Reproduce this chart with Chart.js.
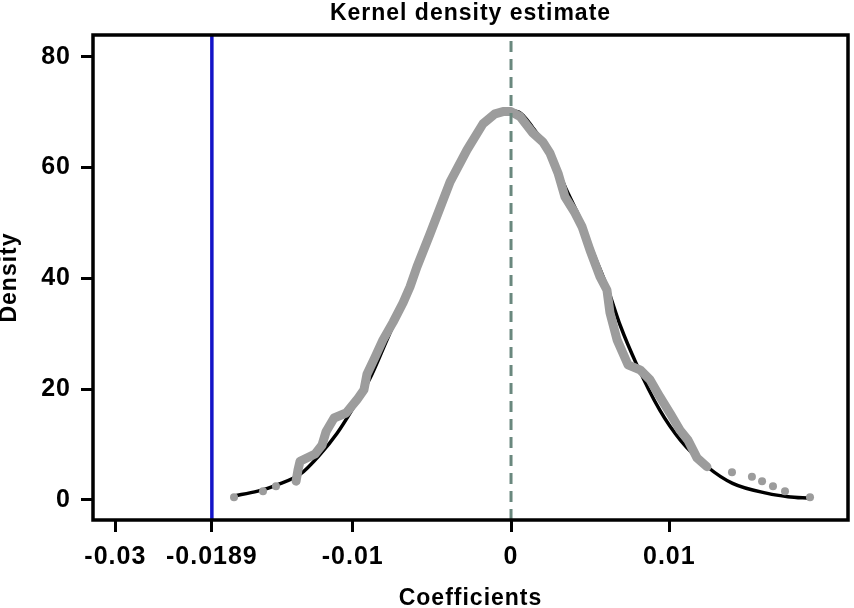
<!DOCTYPE html>
<html>
<head>
<meta charset="utf-8">
<title>Kernel density estimate</title>
<script src="https://cdn.jsdelivr.net/npm/chart.js@4.4.1/dist/chart.umd.min.js"></script>
<style>
  html, body { margin: 0; padding: 0; background: #fff; }
  #wrap { width: 854px; height: 608px; }
</style>
</head>
<body>
<div id="wrap"><canvas id="kdChart" width="854" height="608"></canvas></div>
<script>
// Normal density (black line)
const normalX = [-0.01756, -0.0160, -0.0148, -0.0133, -0.0121, -0.0110, -0.0100, -0.0089, -0.0079, -0.0070,
  -0.0062, -0.0053, -0.0039, -0.0024, -0.0013, -0.0003, 0.0005, 0.0014, 0.0025, 0.0035,
  0.0044, 0.0052, 0.0061, 0.0069, 0.0079, 0.0094, 0.0107, 0.0124, 0.0140, 0.0162, 0.0175, 0.01889];
const normalY = [0.7, 1.6, 2.7, 4.7, 8.1, 12.0, 16.5, 22.0, 28.5, 34.5,
  40.3, 47.5, 57.6, 65.5, 69.2, 70.3, 70.0, 67.1, 62.4, 56.0,
  50.5, 44.6, 38.2, 31.5, 24.7, 16.2, 10.8, 6.0, 3.0, 1.2, 0.6, 0.3];

// Kernel density estimate (grey dots), dense part
const kdensX = [-0.01358, -0.01346, -0.01333, -0.01238, -0.01194, -0.01169, -0.01118, -0.01042, -0.00973, -0.00929,
  -0.00910, -0.00859, -0.00809, -0.00745, -0.00682, -0.00638, -0.00594, -0.00512, -0.00385, -0.00278,
  -0.00177, -0.00101, -0.00051, 0.0, 0.00057, 0.00139, 0.00202, 0.00246, 0.00297, 0.00341,
  0.00404, 0.00449, 0.00499, 0.00562, 0.00606, 0.00625, 0.00670, 0.00739, 0.00815, 0.00878,
  0.00941, 0.01004, 0.01068, 0.01118, 0.01175, 0.01238];
const kdensY = [3.4, 5.4, 7.0, 8.3, 9.9, 12.3, 14.8, 15.7, 18.1, 19.9,
  22.7, 25.8, 28.9, 32.1, 35.6, 38.5, 42.1, 48.0, 57.4, 63.2,
  67.9, 69.7, 70.1, 70.1, 69.2, 66.2, 64.6, 62.6, 59.0, 54.7,
  51.8, 49.3, 45.1, 40.3, 37.9, 33.8, 28.9, 24.4, 23.5, 21.7,
  18.6, 15.7, 12.6, 10.8, 7.6, 6.0];

// Isolated grey dots in the tails
const tailX = [-0.01750, -0.01567, -0.01485, 0.01396, 0.01522, 0.01586, 0.01655, 0.01731, 0.01889];
const tailY = [0.5, 1.6, 2.5, 5.0, 4.2, 3.4, 2.5, 1.6, 0.5];

const xTickValues = [-0.025, -0.0189, -0.01, 0, 0.01];
const xTickLabels = ["-0.03", "-0.0189", "-0.01", "0", "0.01"];
const yTickValues = [0, 20, 40, 60, 80];

const observedCoef = -0.0189;
const zeroLine = 0;
const xRange = [-0.02641, 0.02129];
const yRange = [-3.61, 83.92];

const toPoints = (xs, ys) => xs.map((x, i) => ({ x: x, y: ys[i] }));
const vLine = (x) => [{ x: x, y: yRange[0] }, { x: x, y: yRange[1] }];

// box around the plot region + slightly spaced lettering like the original
const framePlugin = {
  id: "frame",
  beforeDraw(chart) {
    chart.ctx.letterSpacing = "1px";
  },
  afterDatasetsDraw(chart) {
    const { ctx, chartArea: a } = chart;
    ctx.save();
    ctx.strokeStyle = "#000";
    ctx.lineWidth = 3.5;
    ctx.strokeRect(a.left, a.top, a.right - a.left, a.bottom - a.top);
    ctx.restore();
  },
};

Chart.defaults.font.family = "'Liberation Sans', Arial, Helvetica, sans-serif";
Chart.defaults.font.weight = "bold";
Chart.defaults.color = "#000";

new Chart(document.getElementById("kdChart"), {
  type: "scatter",
  data: {
    datasets: [
      {
        label: "Zero",
        data: vLine(zeroLine),
        showLine: true,
        borderColor: "#6a887e",
        borderWidth: 3,
        borderDash: [11, 7],
        pointRadius: 0,
        order: 0,
      },
      {
        label: "Tails",
        data: toPoints(tailX, tailY),
        backgroundColor: "#9c9c9c",
        borderColor: "#9c9c9c",
        pointRadius: 4,
        borderWidth: 0,
        order: 1,
      },
      {
        label: "Kernel density",
        data: toPoints(kdensX, kdensY),
        showLine: true,
        borderColor: "#9c9c9c",
        borderWidth: 9,
        borderCapStyle: "round",
        borderJoinStyle: "round",
        pointRadius: 0,
        order: 2,
      },
      {
        label: "Normal density",
        data: toPoints(normalX, normalY),
        showLine: true,
        borderColor: "#000",
        borderWidth: 3.5,
        cubicInterpolationMode: "monotone",
        pointRadius: 0,
        order: 3,
      },
      {
        label: "Observed",
        data: vLine(observedCoef),
        showLine: true,
        borderColor: "#1414c8",
        borderWidth: 3.5,
        pointRadius: 0,
        order: 4,
      },
    ],
  },
  options: {
    responsive: false,
    animation: false,
    devicePixelRatio: 1,
    layout: { padding: { left: 0, right: 6, top: 0, bottom: 0 } },
    plugins: {
      legend: { display: false },
      tooltip: { enabled: false },
      title: {
        display: true,
        text: "Kernel density estimate",
        fullSize: false,
        font: { size: 23, weight: "bold", lineHeight: 1.2 },
        padding: { top: 0, bottom: 7.4 },
      },
    },
    scales: {
      x: {
        type: "linear",
        min: xRange[0],
        max: xRange[1],
        afterBuildTicks: (scale) => {
          scale.ticks = xTickValues.map((v) => ({ value: v }));
        },
        afterFit: (scale) => {
          scale.height = 88;
        },
        ticks: {
          autoSkip: false,
          maxRotation: 0,
          padding: 10,
          font: { size: 25 },
          callback: (value, index) => xTickLabels[index],
        },
        grid: {
          drawOnChartArea: false,
          tickLength: 12,
          tickWidth: 3,
          tickColor: "#000",
        },
        border: { display: false },
        title: {
          display: true,
          text: "Coefficients",
          font: { size: 23, lineHeight: 0.85 },
          padding: 0,
        },
      },
      y: {
        type: "linear",
        min: yRange[0],
        max: yRange[1],
        afterBuildTicks: (scale) => {
          scale.ticks = yTickValues.map((v) => ({ value: v }));
        },
        afterFit: (scale) => {
          scale.width = 93;
        },
        ticks: {
          padding: 10,
          font: { size: 25 },
        },
        grid: {
          drawOnChartArea: false,
          tickLength: 12,
          tickWidth: 3,
          tickColor: "#000",
        },
        border: { display: false },
        title: {
          display: true,
          text: "Density",
          font: { size: 23, lineHeight: 0.85 },
          padding: 0,
        },
      },
    },
  },
  plugins: [framePlugin],
});
</script>
</body>
</html>
